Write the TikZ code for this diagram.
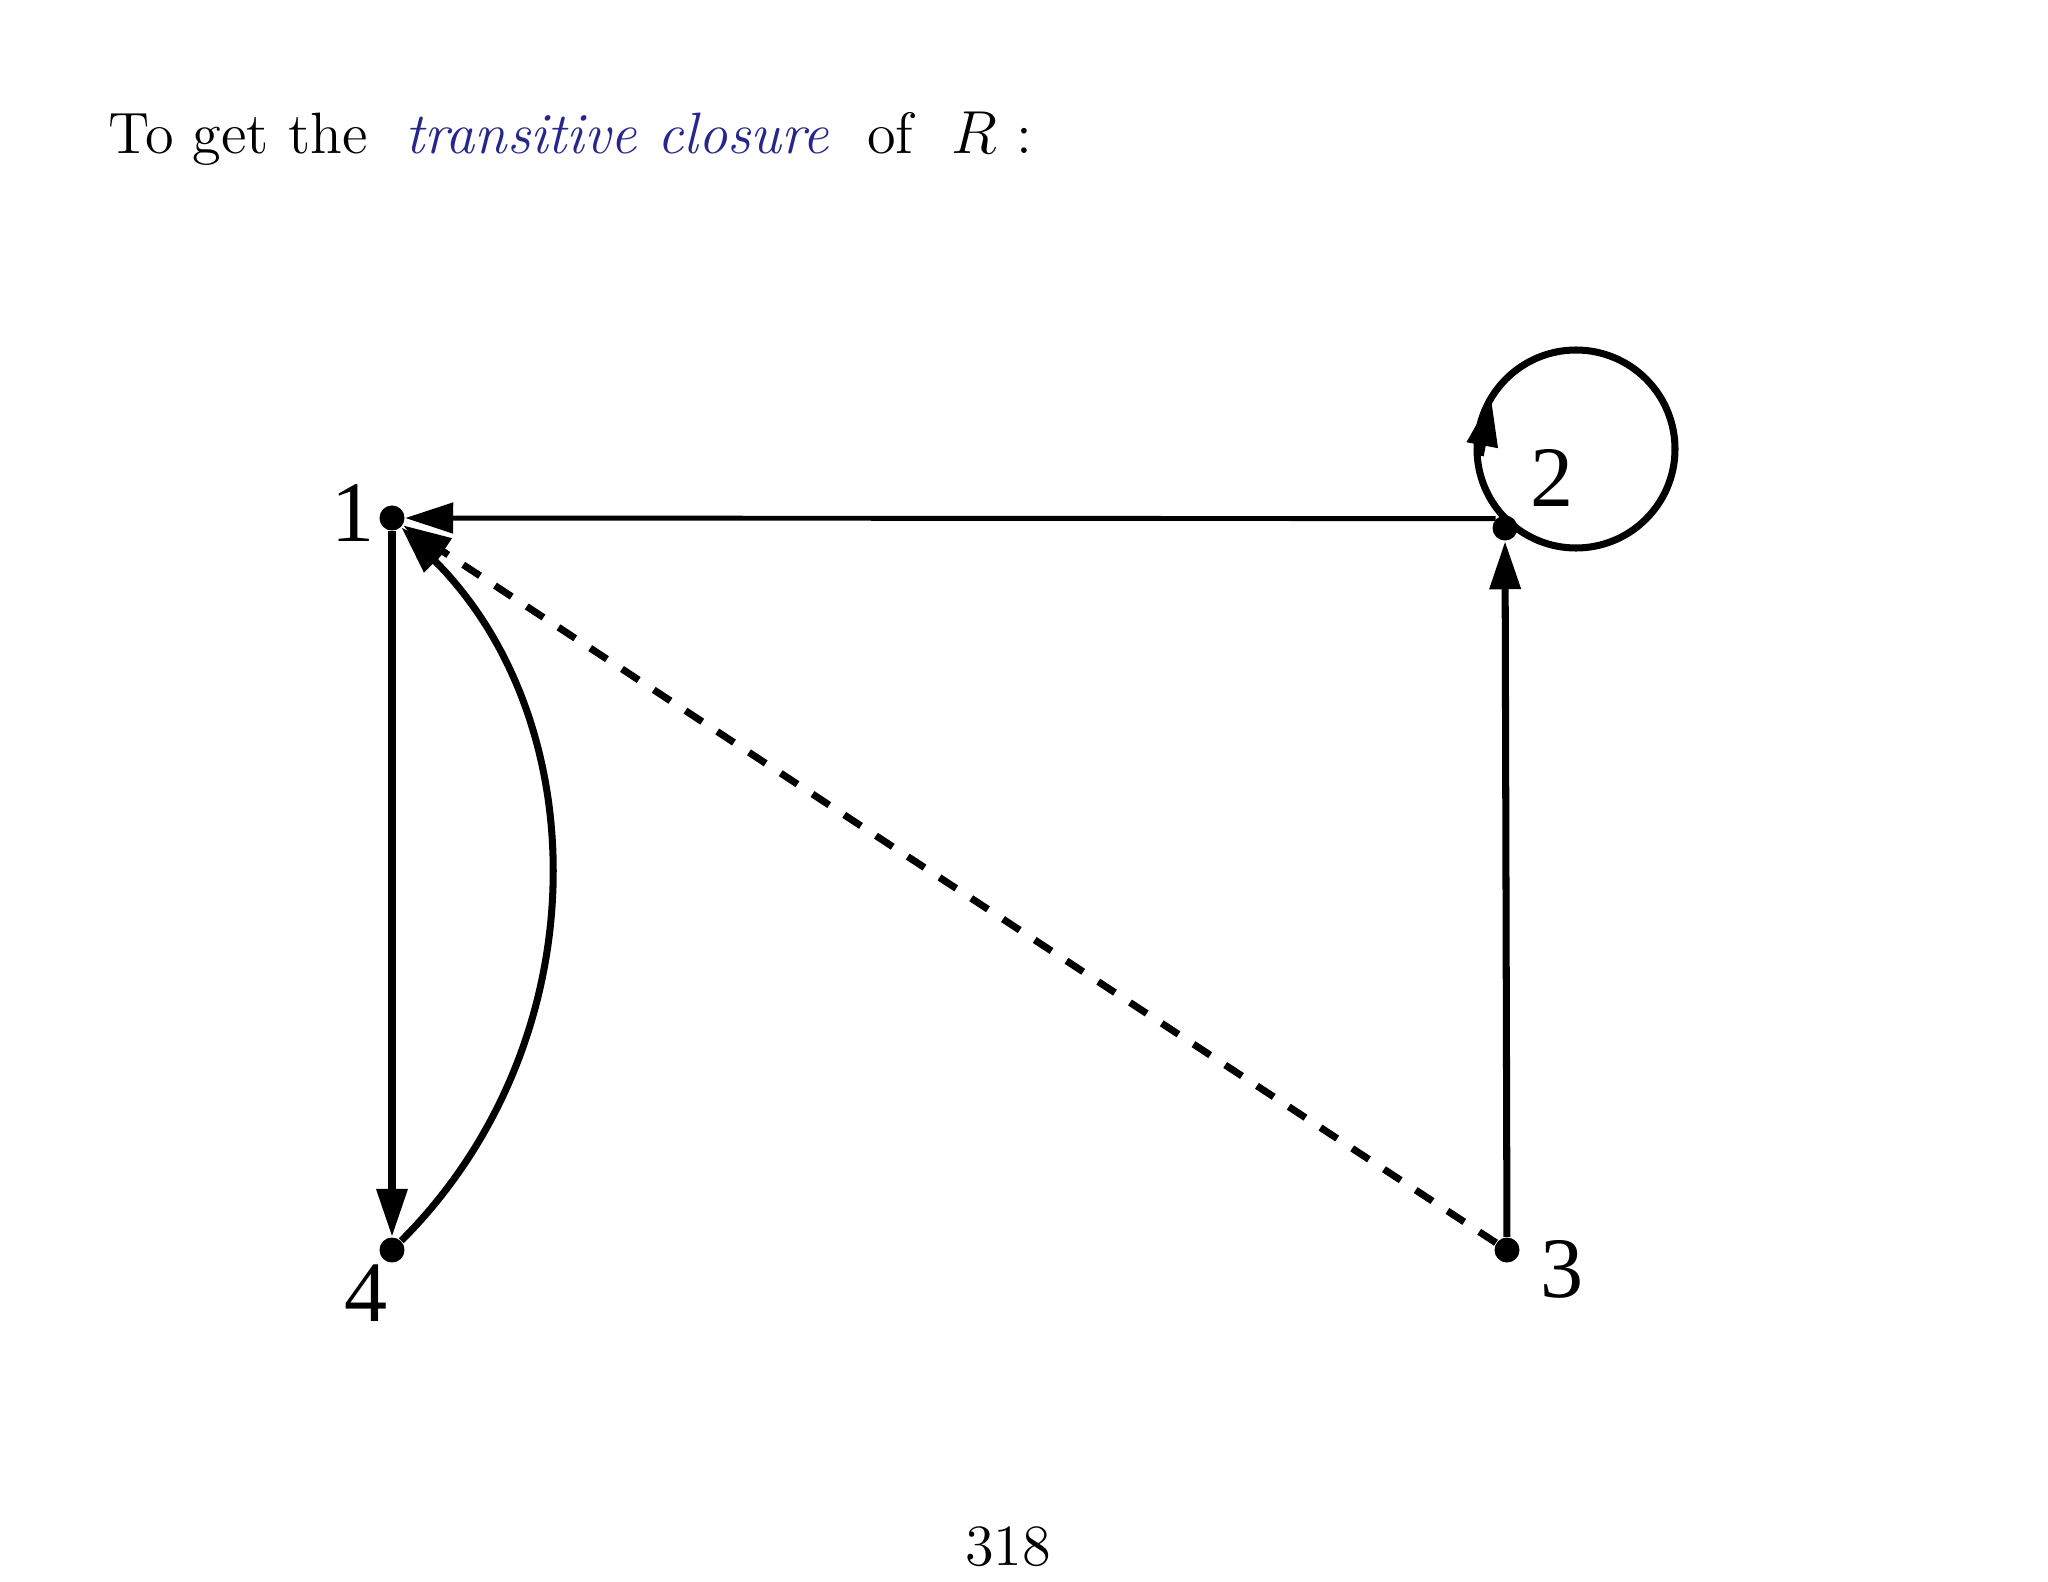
\documentclass[tikz,border=0pt]{standalone}
\usepackage{fontspec}
\newfontfamily\vtxfont{Liberation Serif}
\newfontfamily\slidefont{lmroman12-regular.otf}[ItalicFont=lmroman12-italic.otf]
\usepackage{amsmath}
\usetikzlibrary{arrows.meta,positioning,calc}
\definecolor{closureblue}{RGB}{38,38,140}

\tikzset{
  vertex/.style={circle, fill=black, inner sep=0pt, minimum size=0.25cm},
  vlabel/.style={inner sep=0pt, font=\fontsize{24.5}{24}\vtxfont},
  slidetext/.style={inner sep=0pt, font=\fontsize{16.6}{20}\slidefont},
  edge/.style={line width=2pt, -{Triangle[length=0.48cm,width=0.3cm]}},
  thinedge/.style={line width=1.4pt, -{Triangle[length=0.48cm,width=0.3cm]}},
}

\begin{document}
\begin{tikzpicture}[x=0.01cm, y=0.01cm]
    \useasboundingbox (0,0) rectangle (2048,-1582);
    \node (title) [slidetext, anchor=base west] at (108,-154)
      {To get the\ \ {\color{closureblue}\textit{transitive closure}}\ \ of\ \ $R$ :};
    \node (v1) [vertex] at (392,-518) {};
    \node (v2) [vertex] at (1505,-528) {};
    \node (v3) [vertex] at (1507,-1250) {};
    \node (v4) [vertex] at (392,-1250) {};
    \node (l1) [vlabel, left=0.04cm of v1, yshift=0.045cm] {1};
    \node (l2) [vlabel, above right=0.11cm and 0.155cm of v2] {2};
    \node (l3) [vlabel, right=0.2cm of v3, yshift=-0.19cm] {3};
    \node (l4) [vlabel, below=0.005cm of v4, xshift=-0.26cm] {4};
    \coordinate (c2) at (1576,-449);
    \draw [thinedge] (v2.north west) -- (v1);
    \draw [edge] (v1) -- (v4);
    \draw [edge] (v3) -- (v2);
    \draw [edge] (v4) to[bend right=45] (v1);
    \draw [edge, dash pattern=on 5.7pt off 5.1pt] (v3) -- (v1);
    \draw [line width=2pt] (c2) circle[radius=99];
    \draw [edge] ($(c2)+(184:96)$) -- ($(c2)+(149:99)$);
    \node (page) [slidetext, anchor=base] at (1008,-1565) {318};
\end{tikzpicture}
\end{document}
